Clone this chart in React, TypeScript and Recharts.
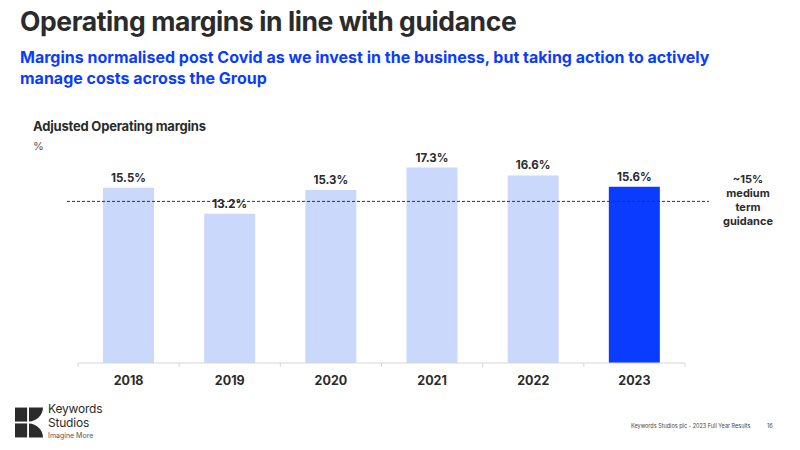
import React from 'react';
import { BarChart, Bar, XAxis, YAxis, Cell, LabelList, ReferenceLine } from 'recharts';

const years = ['2018', '2019', '2020', '2021', '2022', '2023'];
const margins = [15.5, 13.2, 15.3, 17.3, 16.6, 15.6];
const guidance = 14.3;
const guidanceLines = ['~15%', 'medium', 'term', 'guidance'];

const data = years.map((year, i) => ({ year, margin: margins[i] }));

const FONT = 'Inter, "Open Sans", sans-serif';
const LIGHT = '#CAD8FC';
const DARK = '#0A3CFF';
const TEXT = '#2B2B2B';

const PLOT_LEFT = 78;
const PLOT_RIGHT = 115;
const BAND = (800 - PLOT_LEFT - PLOT_RIGHT) / years.length;

const YearTick = (props: any) => {
  const { x, y, payload, index } = props;
  const last = index === years.length - 1;
  return (
    <g>
      <line x1={x - BAND / 2} x2={x - BAND / 2} y1={y - 8} y2={y - 4} stroke="#D6D6D6" />
      {last && <line x1={x + BAND / 2} x2={x + BAND / 2} y1={y - 8} y2={y - 4} stroke="#D6D6D6" />}
      <text x={x} y={y + 14} textAnchor="middle" fill={TEXT} fontSize={12.5} fontWeight={700} fontFamily={FONT}>
        {payload.value}
      </text>
    </g>
  );
};

const GuidanceLine = (props: any) => {
  const { x1, x2, y1, y2 } = props;
  return <line x1={x1 - 11} x2={x2 + 24} y1={y1} y2={y2} stroke="#333" strokeWidth={1} strokeDasharray="3 2" />;
};

const Logo = () => (
  <svg width={28} height={31} viewBox="0 0 30 32" style={{ position: 'absolute', left: 15, top: 407 }}>
    <rect x={0} y={0} width={13} height={15} fill="#2B2B2B" />
    <rect x={0} y={17} width={13} height={15} fill="#2B2B2B" />
    <path d="M15 0 H30 C30 8 23 15 15 15 Z" fill="#2B2B2B" />
    <path d="M15 17 C23 17 30 24 30 32 H15 Z" fill="#2B2B2B" />
  </svg>
);

export default function App() {
  return (
    <div style={{ position: 'absolute', left: 0, top: 0, width: 800, height: 450, background: '#fff', fontFamily: FONT, overflow: 'hidden' }}>
      <div style={{ position: 'absolute', left: 20, top: 5, fontSize: 26.5, fontWeight: 700, color: TEXT, letterSpacing: -0.4, whiteSpace: 'nowrap' }}>
        Operating margins in line with guidance
      </div>
      <div style={{ position: 'absolute', left: 20, top: 47, width: 705, fontSize: 16, fontWeight: 700, color: DARK, lineHeight: '21px', letterSpacing: 0 }}>
        Margins normalised post Covid as we invest in the business, but taking action to actively manage costs across the Group
      </div>
      <div style={{ position: 'absolute', left: 33, top: 118, fontSize: 13, fontWeight: 700, color: TEXT, letterSpacing: -0.2 }}>
        Adjusted Operating margins
      </div>
      <div style={{ position: 'absolute', left: 33, top: 139, fontSize: 11, color: '#555' }}>%</div>

      <div style={{ position: 'absolute', left: 0, top: 0 }}>
        <BarChart width={800} height={450} data={data} margin={{ top: 137, right: PLOT_RIGHT, bottom: 57, left: PLOT_LEFT }}>
          <XAxis
            dataKey="year"
            height={30}
            axisLine={{ stroke: '#D6D6D6' }}
            tickLine={false}
            tick={<YearTick />}
            interval={0}
          />
          <YAxis hide domain={[0, 20]} />
          <ReferenceLine y={guidance} shape={<GuidanceLine />} />
          <Bar dataKey="margin" barSize={51} isAnimationActive={false}>
            {data.map((d, i) => (
              <Cell key={d.year} fill={i === data.length - 1 ? DARK : LIGHT} />
            ))}
            <LabelList
              dataKey="margin"
              position="top"
              offset={6}
              formatter={(v: any) => `${v}%`}
              fill={TEXT}
              fontSize={11.5}
              fontWeight={700}
              fontFamily={FONT}
            />
          </Bar>
        </BarChart>
      </div>

      <div style={{ position: 'absolute', left: 718, top: 172, width: 60, textAlign: 'center', fontSize: 11, fontWeight: 700, color: TEXT, lineHeight: '14px' }}>
        {guidanceLines.map((t) => (
          <div key={t}>{t}</div>
        ))}
      </div>

      <Logo />
      <div style={{ position: 'absolute', left: 48, top: 402, fontSize: 12, color: TEXT, lineHeight: '14px', letterSpacing: -0.2 }}>
        <div>Keywords</div>
        <div>Studios</div>
      </div>
      <div style={{ position: 'absolute', left: 48, top: 431, fontSize: 7, color: '#555', lineHeight: '10px', whiteSpace: 'nowrap' }}>
        Imagine More
      </div>
      <div style={{ position: 'absolute', left: 631, top: 423, fontSize: 5.5, color: '#444', whiteSpace: 'nowrap' }}>
        Keywords Studios plc - 2023 Full Year Results
      </div>
      <div style={{ position: 'absolute', left: 767, top: 423, fontSize: 5.5, color: '#444' }}>16</div>
    </div>
  );
}
